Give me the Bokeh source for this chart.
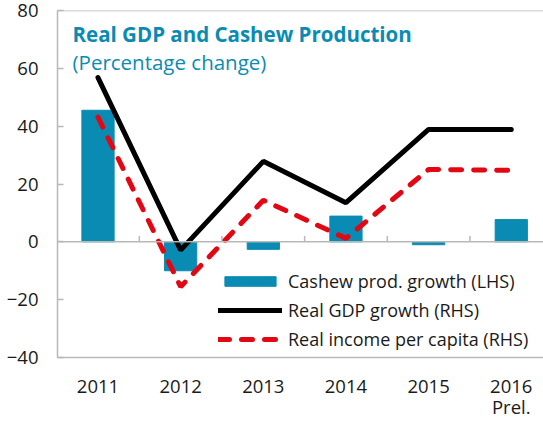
from bokeh.plotting import figure
from bokeh.models import Range1d, FixedTicker, Span, Label, Legend, LegendItem, LinearAxis
from bokeh.embed import file_html
from bokeh.resources import INLINE

# ---- data ----
years = ["2011", "2012", "2013", "2014", "2015", "2016"]
year_notes = ["", "", "", "", "", "Prel."]
cashew_growth = [45.5, -10.0, -2.6, 8.9, -1.0, 7.7]      # LHS
real_gdp_growth = [7.1, -0.36, 3.48, 1.69, 4.86, 4.86]    # RHS
real_income_pc = [5.39, -1.94, 1.8, 0.15, 3.13, 3.09]     # RHS
lhs_ticks = [-40, -20, 0, 20, 40, 60, 80]
lhs_limits = (-40, 80)
rhs_limits = (-5, 10)

TEAL = "#0a8bb3"
GRAY = "#b8b8b8"
RED = "#e30613"
FONT = "Open Sans"
TXT = "#1a1a1a"

x = list(range(len(years)))
bounds = [i + 0.5 for i in x]

p = figure(width=543, height=421, output_backend="svg", toolbar_location=None,
           x_range=Range1d(-0.49, 5.39), y_range=Range1d(*lhs_limits),
           min_border_top=10, min_border_left=57, min_border_right=0, min_border_bottom=63)
p.extra_y_ranges = {"rhs": Range1d(*rhs_limits)}

p.outline_line_color = None
p.xgrid.visible = False
p.ygrid.visible = False
p.background_fill_color = "white"
p.border_fill_color = "white"

# left axis
ya = p.yaxis[0]
ya.ticker = FixedTicker(ticks=lhs_ticks)
ya.major_tick_in = 6
ya.major_tick_out = 0
ya.major_tick_line_color = GRAY
ya.major_tick_line_width = 1.5
ya.minor_tick_line_color = None
ya.axis_line_color = GRAY
ya.axis_line_width = 1.5
ya.major_label_standoff = 19
ya.major_label_text_font = FONT
ya.major_label_text_font_size = "18.5px"
ya.major_label_text_color = TXT

# bottom axis
xa = p.xaxis[0]
xa.ticker = FixedTicker(ticks=x)
xa.major_label_overrides = {i: lab for i, lab in zip(x, years)}
xa.major_tick_line_color = None
xa.minor_tick_line_color = None
xa.axis_line_color = GRAY
xa.axis_line_width = 1.5
xa.major_label_standoff = 16
xa.major_label_text_font = FONT
xa.major_label_text_font_size = "18.5px"
xa.major_label_text_color = TXT

# second line of category labels
note_ticks = [xi for xi, n in zip(x, year_notes) if n]
xa2 = LinearAxis(ticker=FixedTicker(ticks=note_ticks),
                 major_label_overrides={xi: n for xi, n in zip(x, year_notes) if n},
                 axis_line_color=None, major_tick_line_color=None,
                 minor_tick_line_color=None, major_label_standoff=-8,
                 major_label_text_font=FONT, major_label_text_font_size="18.5px",
                 major_label_text_color=TXT)
p.add_layout(xa2, "below")

# frame top line and zero line
p.add_layout(Span(location=lhs_limits[1], dimension="width", line_color=GRAY, line_width=1.5))
p.add_layout(Span(location=0, dimension="width", line_color=GRAY, line_width=1.5))
p.segment(x0=bounds, y0=[0] * len(bounds), x1=bounds, y1=[2] * len(bounds),
          line_color=GRAY, line_width=1.5)

bars = p.vbar(x=x, top=cashew_growth, bottom=0, width=0.39,
              fill_color=TEAL, line_color=TEAL)
gdp_line = p.line(x, real_gdp_growth, y_range_name="rhs", line_color="black",
                  line_width=5, line_cap="round")
inc_line = p.line(x, real_income_pc, y_range_name="rhs", line_color=RED,
                  line_width=5, line_dash="11 12", line_cap="round")

legend = Legend(items=[
    LegendItem(label="Cashew prod. growth (LHS)", renderers=[bars]),
    LegendItem(label="Real GDP growth (RHS)", renderers=[gdp_line]),
    LegendItem(label="Real income per capita (RHS)", renderers=[inc_line]),
], location=(161, 6), glyph_width=64, glyph_height=12, label_height=20,
    spacing=5, padding=0, margin=0, border_line_color=None,
    background_fill_alpha=0, label_standoff=6,
    label_text_font=FONT, label_text_font_size="18px", label_text_color=TXT)
p.add_layout(legend)

p.add_layout(Label(x=15, y=324, x_units="screen", y_units="screen",
                   text="Real GDP and Cashew Production", text_font=FONT,
                   text_font_style="bold", text_font_size="20.5px", text_color=TEAL,
                   text_baseline="alphabetic"))
p.add_layout(Label(x=15, y=296, x_units="screen", y_units="screen",
                   text="(Percentage change)", text_font=FONT,
                   text_font_size="20.5px", text_color=TEAL,
                   text_baseline="alphabetic"))

open("out.html", "w").write(file_html(p, INLINE))
